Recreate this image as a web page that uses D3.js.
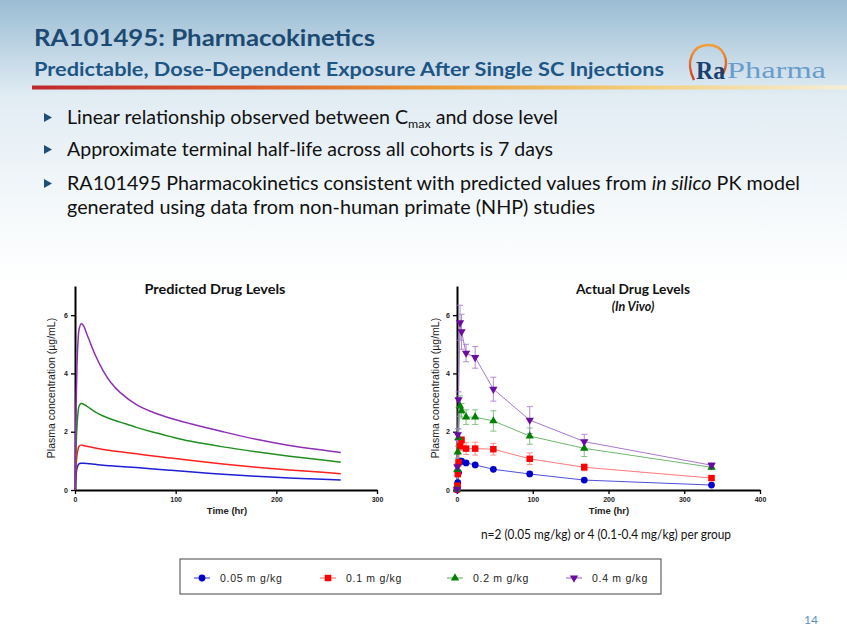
<!DOCTYPE html>
<html><head><meta charset="utf-8">
<script src="https://cdn.jsdelivr.net/npm/d3@7"></script>
<style>html,body{margin:0;padding:0;background:#fff;}svg{display:block;}</style>
</head><body>
<svg id="c" width="847" height="635"></svg>
<script>
// ---------- data ----------
const doses = ["0.05 m g/kg", "0.1 m g/kg", "0.2 m g/kg", "0.4 m g/kg"];
const seriesColors = ["#0000cc", "#ff0000", "#008000", "#6a0d9f"];
const predColors = ["#1f1fd6", "#ff2020", "#1f8f1f", "#8e2fb5"];
const lineColors = ["#5050d8", "#ff7a7a", "#6fb86f", "#a878cc"];

// Predicted (in silico) curves
const predTime = [0, 1, 2, 3, 4, 6, 8, 12, 20, 28, 36, 45, 61, 78, 94, 114, 147, 180, 213, 246, 264];
const predBlue   = [0, 0.5, 0.75, 0.85, 0.9, 0.92, 0.92, 0.91, 0.88, 0.85, 0.83, 0.81, 0.77, 0.72, 0.68, 0.63, 0.54, 0.47, 0.41, 0.37, 0.34];
const predRed    = [0, 0.8, 1.2, 1.4, 1.5, 1.54, 1.53, 1.5, 1.44, 1.39, 1.35, 1.31, 1.24, 1.17, 1.10, 1.02, 0.89, 0.78, 0.69, 0.61, 0.56];
const predGreen  = [0, 1.4, 2.2, 2.65, 2.88, 2.97, 2.95, 2.87, 2.68, 2.54, 2.43, 2.33, 2.15, 1.98, 1.84, 1.68, 1.48, 1.31, 1.16, 1.03, 0.95];
const predPurple = [0, 2.8, 4.3, 5.1, 5.5, 5.7, 5.66, 5.33, 4.64, 4.09, 3.67, 3.34, 2.93, 2.66, 2.47, 2.28, 2.0, 1.74, 1.53, 1.37, 1.29];

// Actual (in vivo) data
const actTime = [0, 0.5, 1, 2, 4, 6, 12, 24, 48, 96, 168, 336];
const actBlue   = [0.02, 0.1, 0.25, 0.6, 0.96, 0.99, 0.93, 0.86, 0.71, 0.55, 0.34, 0.17];
const actRed    = [0.02, 0.15, 0.55, 0.95, 1.5, 1.72, 1.42, 1.42, 1.4, 1.07, 0.78, 0.41];
const actGreen  = [0.02, 0.7, 1.3, 1.8, 2.88, 2.72, 2.5, 2.5, 2.37, 1.85, 1.43, 0.78];
const actPurple = [0.02, 0.8, 1.9, 3.1, 5.74, 5.43, 4.7, 4.55, 3.46, 2.4, 1.66, 0.85];
const errBlue   = [0, 0, 0, 0, 0.03, 0.03, 0.03, 0.03, 0.03, 0.03, 0.02, 0.02];
const errRed    = [0, 0.05, 0.1, 0.15, 0.15, 0.1, 0.2, 0.22, 0.2, 0.2, 0.12, 0.06];
const errGreen  = [0, 0.1, 0.2, 0.3, 0.35, 0.25, 0.25, 0.25, 0.35, 0.28, 0.28, 0.08];
const errPurple = [0, 0.1, 0.2, 0.27, 0.6, 0.6, 0.3, 0.37, 0.41, 0.46, 0.25, 0.08];

const yTicks = [0, 2, 4, 6];
const xTicksPred = [0, 100, 200, 300];
const xTicksAct = [0, 100, 200, 300, 400];

const predSeries = [predBlue, predRed, predGreen, predPurple];
const actSeries = [actBlue, actRed, actGreen, actPurple];
const errSeries = [errBlue, errRed, errGreen, errPurple];
const symbols = [d3.symbolCircle, d3.symbolSquare, d3.symbolTriangle, d3.symbolTriangle];
const symSizes = [36, 42, 30, 30];

// ---------- drawing ----------
const svg = d3.select("#c");
const defs = svg.append("defs");
const bg = defs.append("linearGradient").attr("id", "bg").attr("x1", 0).attr("y1", 0).attr("x2", 0).attr("y2", 1);
[[0, "#9abcd3"], [0.08, "#c0d6e5"], [0.15, "#e1ecf3"], [0.36, "#f8fbfc"], [0.45, "#ffffff"], [1, "#ffffff"]]
  .forEach(s => bg.append("stop").attr("offset", s[0]).attr("stop-color", s[1]));
svg.append("rect").attr("width", 847).attr("height", 635).attr("fill", "url(#bg)");

const bar = defs.append("linearGradient").attr("id", "bar").attr("x1", 0).attr("x2", 1).attr("y1", 0).attr("y2", 0);
[[0, "#c0272d"], [0.25, "#d9582a"], [0.5, "#eb9a35"], [0.75, "#f4cf7c"], [1, "#f6eed6"]]
  .forEach(s => bar.append("stop").attr("offset", s[0]).attr("stop-color", s[1]));
svg.append("rect").attr("x", 32).attr("y", 85.5).attr("width", 815).attr("height", 4).attr("fill", "url(#bar)");

// title
svg.append("text").attr("x", 34).attr("y", 46).attr("font-family", "Lato, 'Open Sans', sans-serif")
  .attr("font-weight", 700).attr("font-size", 23).attr("fill", "#1d4a72")
  .attr("textLength", 341).attr("lengthAdjust", "spacingAndGlyphs").text("RA101495: Pharmacokinetics");
svg.append("text").attr("x", 34).attr("y", 76).attr("font-family", "Lato, 'Open Sans', sans-serif")
  .attr("font-weight", 700).attr("font-size", 19).attr("fill", "#1d5585")
  .attr("textLength", 630).attr("lengthAdjust", "spacingAndGlyphs").text("Predictable, Dose-Dependent Exposure After Single SC Injections");

// logo
const arc = defs.append("linearGradient").attr("id", "arc").attr("x1", 0).attr("x2", 0).attr("y1", 1).attr("y2", 0);
[[0, "#d23a27"], [0.6, "#e8782c"], [1, "#f2a03a"]].forEach(s => arc.append("stop").attr("offset", s[0]).attr("stop-color", s[1]));
svg.append("path").attr("d", "M694,80 C685,62 692,45 708,45 C724,45 730,60 723,74")
  .attr("fill", "none").attr("stroke", "url(#arc)").attr("stroke-width", 2.4);
svg.append("text").attr("x", 696).attr("y", 79).attr("font-family", "'Liberation Serif', 'DejaVu Serif', serif")
  .attr("font-weight", 700).attr("font-size", 26).attr("fill", "#1b3f6e")
  .attr("textLength", 29).attr("lengthAdjust", "spacingAndGlyphs").text("Ra");
svg.append("text").attr("x", 727).attr("y", 78).attr("font-family", "'Liberation Serif', 'DejaVu Serif', serif")
  .attr("font-size", 24).attr("fill", "#6a9dcc")
  .attr("textLength", 99).attr("lengthAdjust", "spacingAndGlyphs").text("Pharma");

// bullets
const bulletFont = "Lato, 'Open Sans', sans-serif";
const bulletYs = [124, 156, 190];
bulletYs.forEach(by => {
  svg.append("path").attr("d", `M44,${by - 11} L52,${by - 6.5} L44,${by - 2} Z`).attr("fill", "#1f4e79");
});
const t1 = svg.append("text").attr("x", 67).attr("y", 124).attr("font-family", bulletFont).attr("font-size", 19).attr("fill", "#111")
  .attr("textLength", 491).attr("lengthAdjust", "spacingAndGlyphs");
t1.append("tspan").text("Linear relationship observed between C");
t1.append("tspan").attr("font-size", 12).attr("dy", 4).text("max");
t1.append("tspan").attr("dy", -4).text(" and dose level");
svg.append("text").attr("x", 67).attr("y", 156).attr("font-family", bulletFont).attr("font-size", 19).attr("fill", "#111")
  .attr("textLength", 486).attr("lengthAdjust", "spacingAndGlyphs").text("Approximate terminal half-life across all cohorts is 7 days");
const t3 = svg.append("text").attr("x", 67).attr("y", 190).attr("font-family", bulletFont).attr("font-size", 19).attr("fill", "#111")
  .attr("textLength", 733).attr("lengthAdjust", "spacingAndGlyphs");
t3.append("tspan").text("RA101495 Pharmacokinetics consistent with predicted values from ");
t3.append("tspan").attr("font-style", "italic").text("in silico");
t3.append("tspan").text(" PK model");
svg.append("text").attr("x", 67).attr("y", 214).attr("font-family", bulletFont).attr("font-size", 19).attr("fill", "#111")
  .attr("textLength", 528).attr("lengthAdjust", "spacingAndGlyphs").text("generated using data from non-human primate (NHP) studies");

// ---------- charts ----------
const chartFont = "'Liberation Sans', Arial, sans-serif";
const y = d3.scaleLinear().domain([0, 7]).range([490, 286]);
const xL = d3.scaleLinear().domain([0, 300]).range([75, 377]);
const xR = d3.scaleLinear().domain([0, 400]).range([457, 760]);

function drawAxes(x, ticks, labelX, timeX) {
  const gy = svg.append("g").attr("transform", `translate(${x(0)},0)`)
    .call(d3.axisLeft(y).tickValues(yTicks).tickSize(4).tickSizeOuter(0).tickFormat(d3.format("d")));
  const gx = svg.append("g").attr("transform", `translate(0,${y(0)})`)
    .call(d3.axisBottom(x).tickValues(ticks).tickSize(4).tickSizeOuter(0).tickFormat(d3.format("d")));
  [gx, gy].forEach(g => {
    g.select(".domain").attr("stroke", "#000").attr("stroke-width", 2);
    g.selectAll(".tick line").attr("stroke", "#000").attr("stroke-width", 1.3);
    g.selectAll(".tick text").attr("font-family", chartFont).attr("font-weight", 700).attr("font-size", 7).attr("fill", "#222");
  });
  gy.selectAll(".tick text").attr("x", -7);
  gx.selectAll(".tick text").attr("y", 7);
  svg.append("text").attr("transform", `translate(${labelX},${y(3.5)}) rotate(-90)`).attr("text-anchor", "middle")
    .attr("font-family", chartFont).attr("font-size", 10.5).attr("fill", "#222").text("Plasma concentration (µg/mL)");
  svg.append("text").attr("x", timeX).attr("y", 514).attr("text-anchor", "middle")
    .attr("font-family", chartFont).attr("font-weight", 700).attr("font-size", 9.5).attr("fill", "#222").text("Time (hr)");
}

drawAxes(xL, xTicksPred, 55, 227);
drawAxes(xR, xTicksAct, 439, 609);

svg.append("text").attr("x", 215).attr("y", 294).attr("text-anchor", "middle").attr("font-family", "Lato, 'Open Sans', sans-serif")
  .attr("font-weight", 700).attr("font-size", 13).attr("fill", "#111")
  .attr("textLength", 141).attr("lengthAdjust", "spacingAndGlyphs").text("Predicted Drug Levels");
svg.append("text").attr("x", 633).attr("y", 294).attr("text-anchor", "middle").attr("font-family", "Lato, 'Open Sans', sans-serif")
  .attr("font-weight", 700).attr("font-size", 13).attr("fill", "#111")
  .attr("textLength", 114).attr("lengthAdjust", "spacingAndGlyphs").text("Actual Drug Levels");
svg.append("text").attr("x", 633).attr("y", 311).attr("text-anchor", "middle").attr("font-family", "Lato, 'Open Sans', sans-serif")
  .attr("font-weight", 700).attr("font-style", "italic").attr("font-size", 12.5).attr("fill", "#111").text("(In Vivo)");

// predicted curves
predSeries.forEach((vals, i) => {
  const line = d3.line().x((d, j) => xL(predTime[j])).y(d => y(d)).curve(d3.curveCatmullRom.alpha(0.5));
  svg.append("path").datum(vals).attr("d", line).attr("fill", "none").attr("stroke", predColors[i]).attr("stroke-width", 1.5);
});

// actual data
const order = [0, 1, 2, 3];
order.forEach(i => {
  const vals = actSeries[i], errs = errSeries[i];
  const line = d3.line().x((d, j) => xR(actTime[j])).y(d => y(d));
  svg.append("path").datum(vals).attr("d", line).attr("fill", "none").attr("stroke", lineColors[i]).attr("stroke-width", 1);
  const g = svg.append("g").attr("stroke", lineColors[i]).attr("stroke-width", 1).attr("opacity", 0.85);
  vals.forEach((v, j) => {
    const e = errs[j]; if (!e || e < 0.05) return;
    const cx = xR(actTime[j]);
    g.append("line").attr("x1", cx).attr("x2", cx).attr("y1", y(v + e)).attr("y2", y(v - e));
    g.append("line").attr("x1", cx - 3).attr("x2", cx + 3).attr("y1", y(v + e)).attr("y2", y(v + e));
    g.append("line").attr("x1", cx - 3).attr("x2", cx + 3).attr("y1", y(v - e)).attr("y2", y(v - e));
  });
});
order.forEach(i => {
  const vals = actSeries[i];
  const sym = d3.symbol().type(symbols[i]).size(symSizes[i]);
  svg.append("g").selectAll("path").data(vals).join("path")
    .attr("d", sym)
    .attr("transform", (d, j) => `translate(${xR(actTime[j])},${y(d)})${i === 3 ? " rotate(180)" : ""}`)
    .attr("fill", seriesColors[i]);
});

// note
svg.append("text").attr("x", 606).attr("y", 539).attr("text-anchor", "middle").attr("font-family", "Lato, 'Open Sans', sans-serif")
  .attr("font-size", 12.5).attr("fill", "#111").attr("textLength", 250).attr("lengthAdjust", "spacingAndGlyphs")
  .text("n=2 (0.05 mg/kg) or 4 (0.1-0.4 mg/kg) per group");

// legend
svg.append("rect").attr("x", 180).attr("y", 559).attr("width", 481).attr("height", 35)
  .attr("fill", "#fff").attr("stroke", "#444").attr("stroke-width", 1);
const legX = [202, 328, 455, 574];
doses.forEach((d, i) => {
  const cx = legX[i], cy = 578;
  svg.append("line").attr("x1", cx - 8).attr("x2", cx + 8).attr("y1", cy).attr("y2", cy).attr("stroke", lineColors[i]).attr("stroke-width", 1.2);
  svg.append("path").attr("d", d3.symbol().type(symbols[i]).size(symSizes[i]))
    .attr("transform", `translate(${cx},${cy})${i === 3 ? " rotate(180)" : ""}`).attr("fill", seriesColors[i]);
  svg.append("text").attr("x", cx + 18).attr("y", cy + 4).attr("font-family", chartFont).attr("font-size", 10.5)
    .attr("letter-spacing", 0.7).attr("fill", "#222").text(d);
});

// page number
svg.append("text").attr("x", 818).attr("y", 624).attr("text-anchor", "end").attr("font-family", "Lato, sans-serif")
  .attr("font-size", 12).attr("fill", "#5b8fc7").text("14");
</script>
</body></html>
